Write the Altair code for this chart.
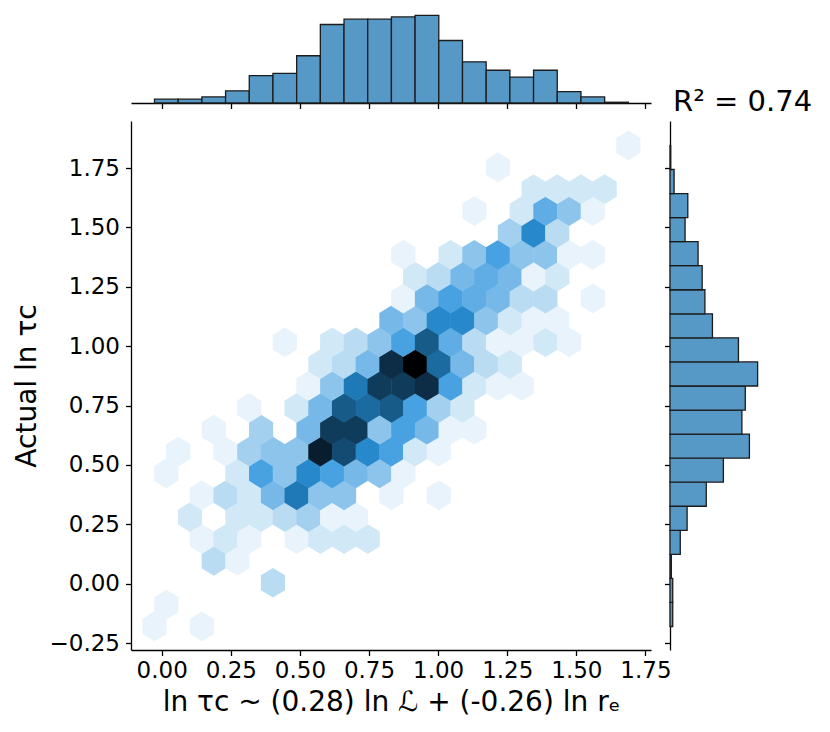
import colorsys
import altair as alt
import pandas as pd

# ---------------- data ----------------
# hexbin grid (matplotlib style: gridsize 20 in x, 11 in y)
X_MIN, X_MAX = -0.026, 1.688
Y_MIN, Y_MAX = -0.18, 1.845
GRID_NX, GRID_NY = 20, 11

# hex cells: half-step column index, half-step row index, count
hex_col = [0, 4, 1, 10, 5, 7,
           4, 6, 8, 12, 14, 16, 18,
           3, 7, 9, 11, 13, 15, 17,
           4, 6, 8, 10, 12, 14, 16, 20, 24,
           1, 7, 9, 11, 13, 15, 17, 19, 21,
           2, 6, 8, 10, 12, 14, 16, 18, 20, 22, 24,
           5, 9, 13, 15, 17, 19, 21, 23, 25, 27,
           8, 12, 14, 16, 18, 20, 22, 24, 26,
           13, 15, 17, 19, 21, 23, 25, 27, 29, 31,
           14, 16, 18, 20, 22, 24, 26, 28, 30,
           11, 15, 17, 19, 21, 23, 25, 27, 29, 31, 33, 35,
           20, 22, 24, 26, 28, 30, 32, 34,
           21, 23, 25, 27, 29, 31, 33, 37,
           22, 24, 26, 28, 30, 32, 34,
           21, 25, 27, 29, 31, 33, 35, 37,
           30, 32, 34,
           27, 31, 33, 35, 37,
           32, 34, 36, 38,
           29,
           40]
hex_row = [0, 0, 1, 2, 3, 3,
           4, 4, 4, 4, 4, 4, 4,
           5, 5, 5, 5, 5, 5, 5,
           6, 6, 6, 6, 6, 6, 6, 6, 6,
           7, 7, 7, 7, 7, 7, 7, 7, 7,
           8, 8, 8, 8, 8, 8, 8, 8, 8, 8, 8,
           9, 9, 9, 9, 9, 9, 9, 9, 9, 9,
           10, 10, 10, 10, 10, 10, 10, 10, 10,
           11, 11, 11, 11, 11, 11, 11, 11, 11, 11,
           12, 12, 12, 12, 12, 12, 12, 12, 12,
           13, 13, 13, 13, 13, 13, 13, 13, 13, 13, 13, 13,
           14, 14, 14, 14, 14, 14, 14, 14,
           15, 15, 15, 15, 15, 15, 15, 15,
           16, 16, 16, 16, 16, 16, 16,
           17, 17, 17, 17, 17, 17, 17, 17,
           18, 18, 18,
           19, 19, 19, 19, 19,
           20, 20, 20, 20,
           21,
           22]
hex_count = [2, 2, 2, 4, 4, 2,
             2, 3, 2, 2, 3, 3, 3,
             3, 3, 3, 4, 5, 2, 2,
             2, 4, 3, 7, 12, 6, 6, 2, 2,
             2, 3, 9, 6, 11, 9, 7, 6, 2,
             2, 2, 5, 6, 6, 18, 15, 11, 9, 3, 2,
             2, 5, 7, 16, 16, 6, 9, 7, 2, 2,
             2, 3, 7, 14, 13, 14, 9, 5, 3,
             2, 6, 12, 16, 16, 17, 9, 3, 2, 2,
             3, 4, 7, 17, 20, 13, 7, 4, 3,
             2, 3, 4, 6, 9, 14, 8, 4, 2, 2, 3, 2,
             7, 6, 11, 11, 6, 3, 2, 2,
             2, 7, 9, 8, 7, 4, 4, 2,
             3, 4, 7, 8, 7, 2, 3,
             2, 3, 6, 9, 6, 6, 2, 2,
             5, 11, 4,
             2, 3, 8, 6, 2,
             3, 3, 3, 3,
             2,
             2]

# marginal histograms (20 bins each)
top_counts = [5, 5, 8, 16, 36, 39, 62, 103, 110, 110, 113, 115, 82, 54, 43, 34, 43, 15, 8, 1]
right_counts = [4, 4, 2, 15, 25, 53, 78, 116, 105, 110, 128, 100, 62, 51, 47, 41, 22, 26, 6, 1]  # bottom -> top

x_ticks = [0.0, 0.25, 0.5, 0.75, 1.0, 1.25, 1.5, 1.75]
y_ticks = [-0.25, 0.0, 0.25, 0.5, 0.75, 1.0, 1.25, 1.5, 1.75]

x_title = "ln τc ~ (0.28) ln ℒ + (-0.26) ln rₑ"
y_title = "Actual ln τc"
r2_text = "R² = 0.74"

# ---------------- layout / style ----------------
FONT = "DejaVu Sans"
W, H = 520, 529
MARG = 92
X_DOM = [-0.111, 1.770]
Y_DOM = [-0.279, 1.948]
BAR_FILL = "#5698c6"
BAR_EDGE = "#1c1c1c"

sx = (X_MAX - X_MIN) / GRID_NX
sy = (Y_MAX - Y_MIN) / GRID_NY
px_per_x = W / (X_DOM[1] - X_DOM[0])
px_per_y = H / (Y_DOM[1] - Y_DOM[0])
hex_w = sx * px_per_x
k = (sy / 3 * px_per_y) / (hex_w / 2)
HEX_PATH = (f"M0,{-k:.4f}L1,{-k/2:.4f}L1,{k/2:.4f}L0,{k:.4f}"
            f"L-1,{k/2:.4f}L-1,{-k/2:.4f}Z")
HEX_SIZE = (hex_w * 1.02) ** 2

hex_df = pd.DataFrame({"c": hex_col, "r": hex_row, "count": hex_count})
hex_df["x"] = X_MIN + hex_df["c"] * sx / 2
hex_df["y"] = Y_MIN + hex_df["r"] * sy / 2

# seaborn-like hex colormap: C0 hue, lightness 1 -> 0
base = (0x1f / 255, 0x77 / 255, 0xb4 / 255)
h, l0, s = colorsys.rgb_to_hls(*base)
n_col = 12
cmap = []
for i in range(n_col):
    ll = 1 - i / (n_col - 1)
    rr, gg, bb = colorsys.hls_to_rgb(h, ll, s)
    cmap.append("#%02x%02x%02x" % (round(rr * 255), round(gg * 255), round(bb * 255)))
cmin, cmax = 1, max(hex_count)
cdom = [cmin + (cmax - cmin) * i / (n_col - 1) for i in range(n_col)]

xscale = alt.Scale(domain=X_DOM, nice=False, zero=False)
yscale = alt.Scale(domain=Y_DOM, nice=False, zero=False)

main = alt.Chart(hex_df).mark_point(
    shape=HEX_PATH, filled=True, opacity=1, strokeWidth=0, size=HEX_SIZE
).encode(
    x=alt.X("x:Q", scale=xscale,
            axis=alt.Axis(values=x_ticks, format=".2f", title=x_title, grid=False,
                          labelPadding=4, titlePadding=6)),
    y=alt.Y("y:Q", scale=yscale,
            axis=alt.Axis(values=y_ticks, format=".2f", title=y_title, grid=False,
                          labelPadding=6, titlePadding=8)),
    color=alt.Color("count:Q",
                    scale=alt.Scale(domain=cdom, range=cmap, interpolate="rgb"),
                    legend=None),
).properties(width=W, height=H)

nb_top = len(top_counts)
tw = (X_MAX - X_MIN) / nb_top
top_df = pd.DataFrame({
    "start": [X_MIN + i * tw for i in range(nb_top)],
    "end": [X_MIN + (i + 1) * tw for i in range(nb_top)],
    "count": top_counts,
})
top = alt.Chart(top_df).mark_bar(
    color=BAR_FILL, stroke=BAR_EDGE, strokeWidth=1.3, opacity=1
).encode(
    x=alt.X("start:Q", scale=xscale,
            axis=alt.Axis(values=x_ticks, labels=False, title=None, grid=False)),
    x2="end:Q",
    y=alt.Y("count:Q", scale=alt.Scale(domain=[0, max(top_counts) * 1.05], nice=False),
            axis=None),
    y2=alt.datum(0),
).properties(width=W, height=MARG)

nb_r = len(right_counts)
rh = (Y_MAX - Y_MIN) / nb_r
right_df = pd.DataFrame({
    "start": [Y_MIN + i * rh for i in range(nb_r)],
    "end": [Y_MIN + (i + 1) * rh for i in range(nb_r)],
    "count": right_counts,
})
right = alt.Chart(right_df).mark_bar(
    color=BAR_FILL, stroke=BAR_EDGE, strokeWidth=1.3, opacity=1
).encode(
    y=alt.Y("start:Q", scale=yscale,
            axis=alt.Axis(values=y_ticks, labels=False, title=None, grid=False)),
    y2="end:Q",
    x=alt.X("count:Q", scale=alt.Scale(domain=[0, max(right_counts) * 1.05], nice=False),
            axis=None),
    x2=alt.datum(0),
).properties(width=MARG, height=H)

r2 = alt.Chart(pd.DataFrame({"t": [r2_text]})).mark_text(
    align="left", baseline="alphabetic", fontSize=29, font=FONT, color="black"
).encode(
    text="t:N", x=alt.value(3), y=alt.value(MARG + 7.7)
).properties(width=MARG, height=MARG)

chart = alt.concat(
    top, r2, main, right, columns=2,
    spacing={"row": 18, "column": 19}, bounds="flush"
).properties(
    padding={"left": 5, "top": 3, "right": 5, "bottom": 5}
).configure_view(
    stroke=None
).configure_axis(
    domainColor="black", domainWidth=1.3, tickColor="black", tickWidth=1.3,
    tickSize=5.5, labelFont=FONT, labelFontSize=23, labelColor="black",
    titleFont=FONT, titleFontSize=28, titleFontWeight="normal", titleColor="black"
)

chart.save("out.html", embed_options={"renderer": "svg", "actions": False})
